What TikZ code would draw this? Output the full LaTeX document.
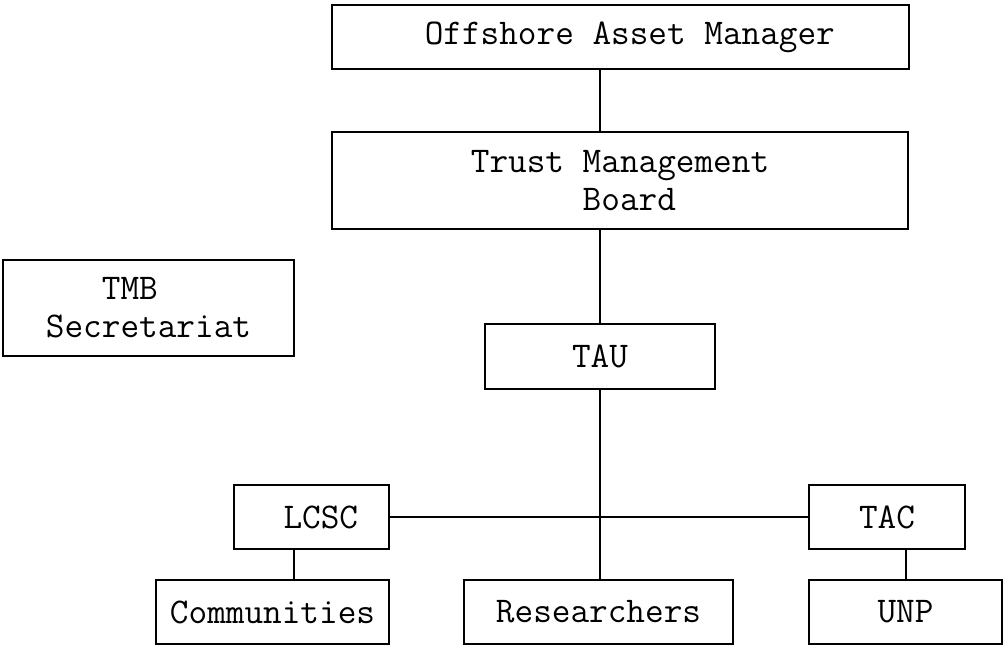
\documentclass[tikz,border=0pt]{standalone}
\begin{document}
\begin{tikzpicture}[
    x=0.5pt, y=-0.5pt,
    unit/.style={rectangle, draw, line width=1pt, inner sep=0pt, align=center,
                 minimum height=32pt, font=\ttfamily\fontsize{18.1}{19}\selectfont},
    link/.style={line width=1pt}
]
    \useasboundingbox (0,0) rectangle (1007,645);
    % 方框
    \node[unit, minimum width=288.5pt] (oam) at (620.5,37) {\phantom{x}Offshore Asset Manager};
    \node[unit, minimum width=288pt, minimum height=48.5pt, align=left] (tmb) at (620,180.5)
        {Trust Management\\\phantom{Trust }Board};
    \node[unit, minimum width=145.5pt, minimum height=48pt] (sec) at (148.5,308)
        {TMB\phantom{xx}\\Secretariat};
    \node[unit, minimum width=115pt, minimum height=32.5pt] (tau) at (600,356.5) {TAU};
    \node[unit, minimum width=77.5pt] (lcsc) at (311.5,517) {\phantom{x}LCSC};
    \node[unit, minimum width=78pt] (tac) at (887,517) {TAC};
    \node[unit, minimum width=116.5pt] (com) at (272.5,612) {Communities};
    \node[unit, minimum width=134.5pt] (res) at (598.5,612) {Researchers};
    \node[unit, minimum width=96.5pt] (unp) at (905.5,612) {UNP};

    % 连线
    \draw[link] (oam.south -| tau.north) -- (tmb.north -| tau.north);
    \draw[link] (tmb.south -| tau.north) -- (tau.north);
    \draw[link] (tau.south) -- (tau.south |- res.north);
    \draw[link] (lcsc.east) -- (tac.west);
    \draw[link] ([xshift=-9pt]lcsc.south) -- ([xshift=-9pt]lcsc.south |- com.north);
    \draw[link] (unp.north |- tac.south) -- (unp.north);
\end{tikzpicture}
\end{document}
